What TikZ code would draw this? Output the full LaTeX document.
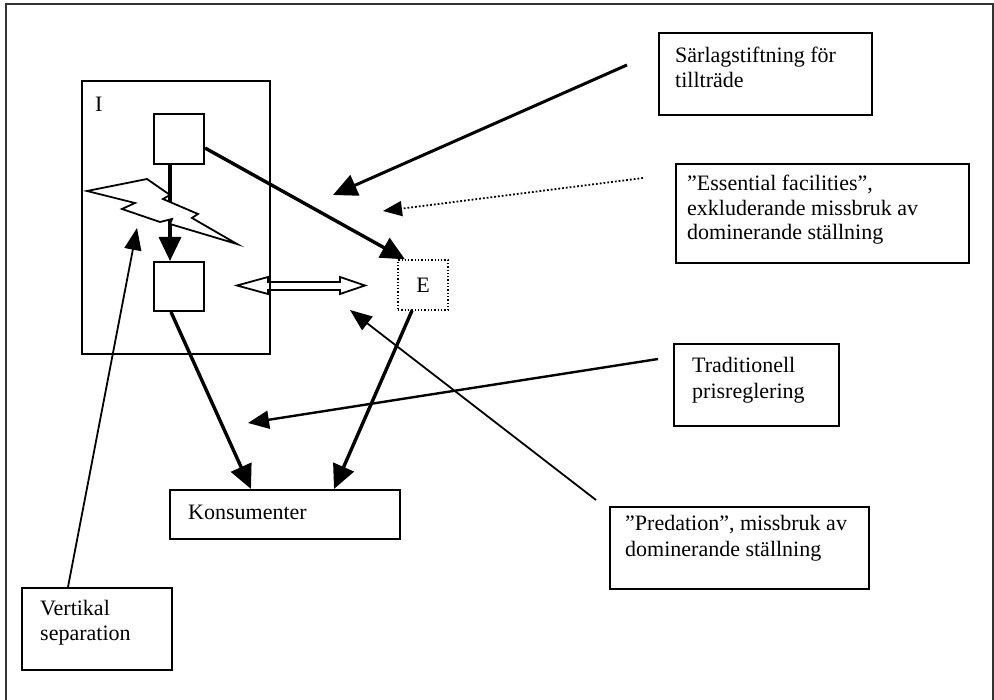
\documentclass[tikz,border=0pt]{standalone}
\usepackage{fontspec}
\setmainfont{Liberation Serif}
\usetikzlibrary{arrows.meta}
\begin{document}
\begin{tikzpicture}[x=1pt,y=-1pt,
  box/.style={draw, line width=2pt, anchor=north west, inner sep=0pt},
  ebox/.style={draw, dotted, line width=1.3pt, minimum width=50pt, minimum height=50pt, inner sep=0pt, font=\fontsize{22}{26}\selectfont},
  txt/.style={anchor=base west, inner sep=0pt, font=\fontsize{22}{26}\selectfont},
  conn/.style={line width=3.4pt, -{Triangle[length=24pt,width=22pt]}},
  midarr/.style={line width=2.4pt, -{Triangle[length=21pt,width=18pt]}},
  thinarr/.style={line width=1.8pt, -{Triangle[length=22pt,width=17pt]}},
  dotarr/.style={dotted, line width=1.8pt, -{Triangle[length=19pt,width=15pt]}}]
\useasboundingbox (0,0) rectangle (994,700);
% outer frame
\draw[line width=2.2pt, black!80] (6,700) -- (6,4) -- (993,4) -- (993,700);

% boxes
\node[box, minimum width=188pt, minimum height=273pt] (I) at (81,80) {};
\node[txt] (Ilab) at (95,112) {I};
\node[box, minimum width=50pt, minimum height=50pt] (sq1) at (153,113) {};
\node[box, minimum width=50pt, minimum height=49pt] (sq2) at (153,261) {};
\node[ebox] (E) at (423,285) {E};
\node[box, minimum width=230pt, minimum height=49pt] (kons) at (169,489) {};
\node[txt] (konsT) at (188,519) {Konsumenter};

\node[box, minimum width=213pt, minimum height=82pt] (sar) at (658,32) {};
\node[txt] (sar1) at (675,63) {Särlagstiftning för};
\node[txt] (sar2) at (675,88) {tillträde};

\node[box, minimum width=293pt, minimum height=99pt] (ess) at (675,163) {};
\node[txt] (ess1) at (687,191) {”Essential facilities”,};
\node[txt] (ess2) at (687,216) {exkluderande missbruk av};
\node[txt] (ess3) at (687,240) {dominerande ställning};

\node[box, minimum width=165pt, minimum height=82pt] (trad) at (673,343) {};
\node[txt] (trad1) at (692,373) {Traditionell};
\node[txt] (trad2) at (692,399) {prisreglering};

\node[box, minimum width=259pt, minimum height=82pt] (pred) at (609,506) {};
\node[txt] (pred1) at (625,530) {”Predation”, missbruk av};
\node[txt] (pred2) at (625,556) {dominerande ställning};

\node[box, minimum width=150pt, minimum height=82pt] (vert) at (21,587) {};
\node[txt] (vert1) at (40,615) {Vertikal};
\node[txt] (vert2) at (40,640) {separation};

% inner connectors
\draw[conn] ([xshift=-9pt]sq1.south) -- ([xshift=-9pt]sq2.north);
\draw[conn] ([yshift=-9pt]sq1.east) -- ([xshift=-18pt]E.north);
\draw[conn] ([xshift=-8pt]sq2.south) -- ([xshift=-34pt]kons.north);
\draw[conn] ([xshift=-11pt]E.south) -- ([xshift=49pt]kons.north);

% lightning bolt (drawn over the vertical connector)
\draw[line width=1.8pt, line join=miter, fill=white]
  (87,191) -- (147,179) -- (170,195) -- (163,199) -- (198,214) -- (192,218)
  -- (237,244) -- (170,224) -- (172,219) -- (160,222) -- (122,209) -- (135,203) -- cycle;

% hollow double arrow
\draw[line width=1.8pt, line join=miter]
  (237,285.5) -- (268,277) -- (268,282) -- (340,282) -- (340,277) -- (365,285.5)
  -- (340,294) -- (340,290) -- (268,290) -- (268,294) -- cycle;

% annotation arrows
\coordinate (sarS) at (627,65);
\coordinate (sarT) at (333,195);
\draw[conn, line width=3pt] (sarS) -- (sarT);
\coordinate (essS) at (643,178);
\coordinate (essT) at (383,211);
\draw[dotarr] (essS) -- (essT);
\coordinate (tradS) at (658,359);
\coordinate (tradT) at (248,423);
\draw[midarr] (tradS) -- (tradT);
\coordinate (predS) at (596,500);
\coordinate (predT) at (350,310);
\draw[thinarr] (predS) -- (predT);
\coordinate (vertS) at (68,587);
\coordinate (vertT) at (137,228);
\draw[thinarr] (vertS) -- (vertT);
\end{tikzpicture}
\end{document}
